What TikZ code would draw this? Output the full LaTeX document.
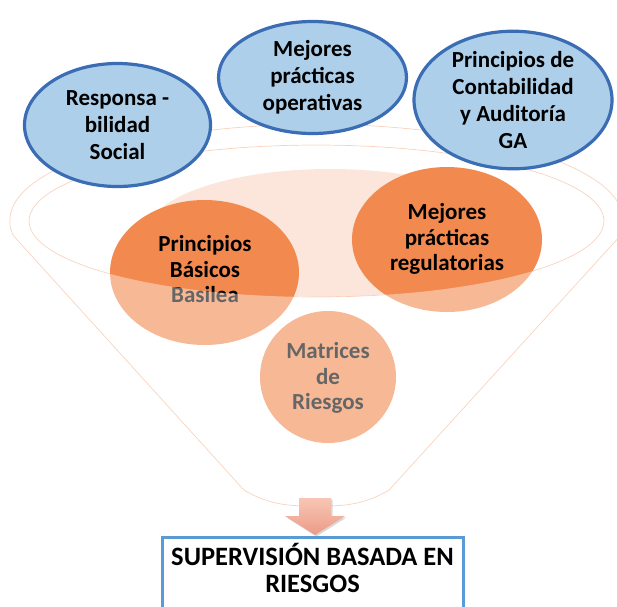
\documentclass[tikz,border=0pt]{standalone}
\usepackage{fontspec}
\setmainfont{Carlito}
\usetikzlibrary{shapes.geometric}
\definecolor{bluefill}{HTML}{ADCFE9}
\definecolor{blueline}{HTML}{3B6DB5}
\definecolor{orangec}{HTML}{F28A50}
\definecolor{peach}{HTML}{FCE6DC}
\definecolor{funline}{HTML}{F8C7AB}
\definecolor{boxblue}{HTML}{5B9BD5}
\definecolor{arrtop}{HTML}{F8C6B5}
\definecolor{arrbot}{HTML}{EC9B87}
\begin{document}
\begin{tikzpicture}[x=1pt,y=-1pt,
  blueell/.style={ellipse, draw=blueline, line width=3.2pt, fill=bluefill, inner sep=0pt, align=center,
    font=\bfseries\fontsize{23}{27}\selectfont},
  orangeell/.style={ellipse, fill=orangec, inner sep=0pt},
  otext/.style={align=center, inner sep=0pt, font=\bfseries\fontsize{23}{25.5}\selectfont},
  funnelline/.style={draw=funline, line width=0.7pt},
  boxtext/.style={align=center, inner sep=0pt, font=\bfseries\fontsize{26.5}{27}\selectfont}
]
\useasboundingbox (0,0) rectangle (617,606);
\clip (0,0) rectangle (617,606);

% funnel interior light fill
\begin{scope}
  \clip (316.5,221) ellipse[x radius=287.5, y radius=76];
  \fill[peach] (330,233) ellipse[x radius=183, y radius=64];
\end{scope}

% funnel outlines
\draw[funnelline] (10,220) arc[start angle=180, end angle=360, x radius=306.5, y radius=95.6]
  .. controls (623,228) .. (620,236) -- (389,490)
  .. controls (362,506) and (340,506) .. (316.5,506)
  .. controls (293,506) and (271,506) .. (244,490) -- (13.8,236)
  .. controls (10,228) .. cycle;
\draw[funnelline] (316.5,221) ellipse[x radius=287.5, y radius=76];

% orange circles
\node[orangeell, minimum width=189pt, minimum height=145pt] (pbb) at (204.5,272.5) {};
\node[otext] (pbbt) at (205,269.5) {Principios\\Básicos\\Basilea};
\node[orangeell, minimum width=190pt, minimum height=145pt] (mpr) at (447,239.5) {};
\node[otext] (mprt) at (447,239) {Mejores\\prácticas\\regulatorias};
\node[orangeell, minimum width=136pt, minimum height=132pt] (mdr) at (328,377) {};
\node[otext] (mdrt) at (328,378) {Matrices\\de\\Riesgos};

% translucent funnel body
\fill[white, opacity=0.4, even odd rule] (10,220) arc[start angle=180, end angle=360, x radius=306.5, y radius=95.6]
  .. controls (623,228) .. (620,236) -- (389,490)
  .. controls (362,506) and (340,506) .. (316.5,506)
  .. controls (293,506) and (271,506) .. (244,490) -- (13.8,236)
  .. controls (10,228) .. cycle
  (316.5,221) ellipse[x radius=287.5, y radius=76];

% blue ellipses
\node[blueell, minimum width=186pt, minimum height=123pt] (rs) at (117.5,125) {Responsa -\\bilidad\\Social};
\node[blueell, minimum width=188pt, minimum height=112pt] (mpo) at (312.5,77.5) {Mejores\\prácticas\\operativas};
\node[blueell, minimum width=198pt, minimum height=123pt] (pca) at (513,100) {Principios de\\Contabilidad\\y Auditoría\\GA};

% arrow
\fill[gray, opacity=0.3] (300.5,499.5) -- (332.5,499.5) -- (332.5,517.5) -- (346.5,517.5) -- (316.5,536.5) -- (286.5,517.5) -- (300.5,517.5) -- cycle;
\shade[top color=arrtop, bottom color=arrbot] (299,498) -- (331,498) -- (331,516) -- (345,516) -- (315,535) -- (285,516) -- (299,516) -- cycle;

% result box
\draw[boxblue, line width=3pt, fill=white] (162,537) rectangle (463,625);
\node[boxtext] (sbr) at (312.5,567.5) {SUPERVISIÓN BASADA EN\\RIESGOS};
\end{tikzpicture}
\end{document}
